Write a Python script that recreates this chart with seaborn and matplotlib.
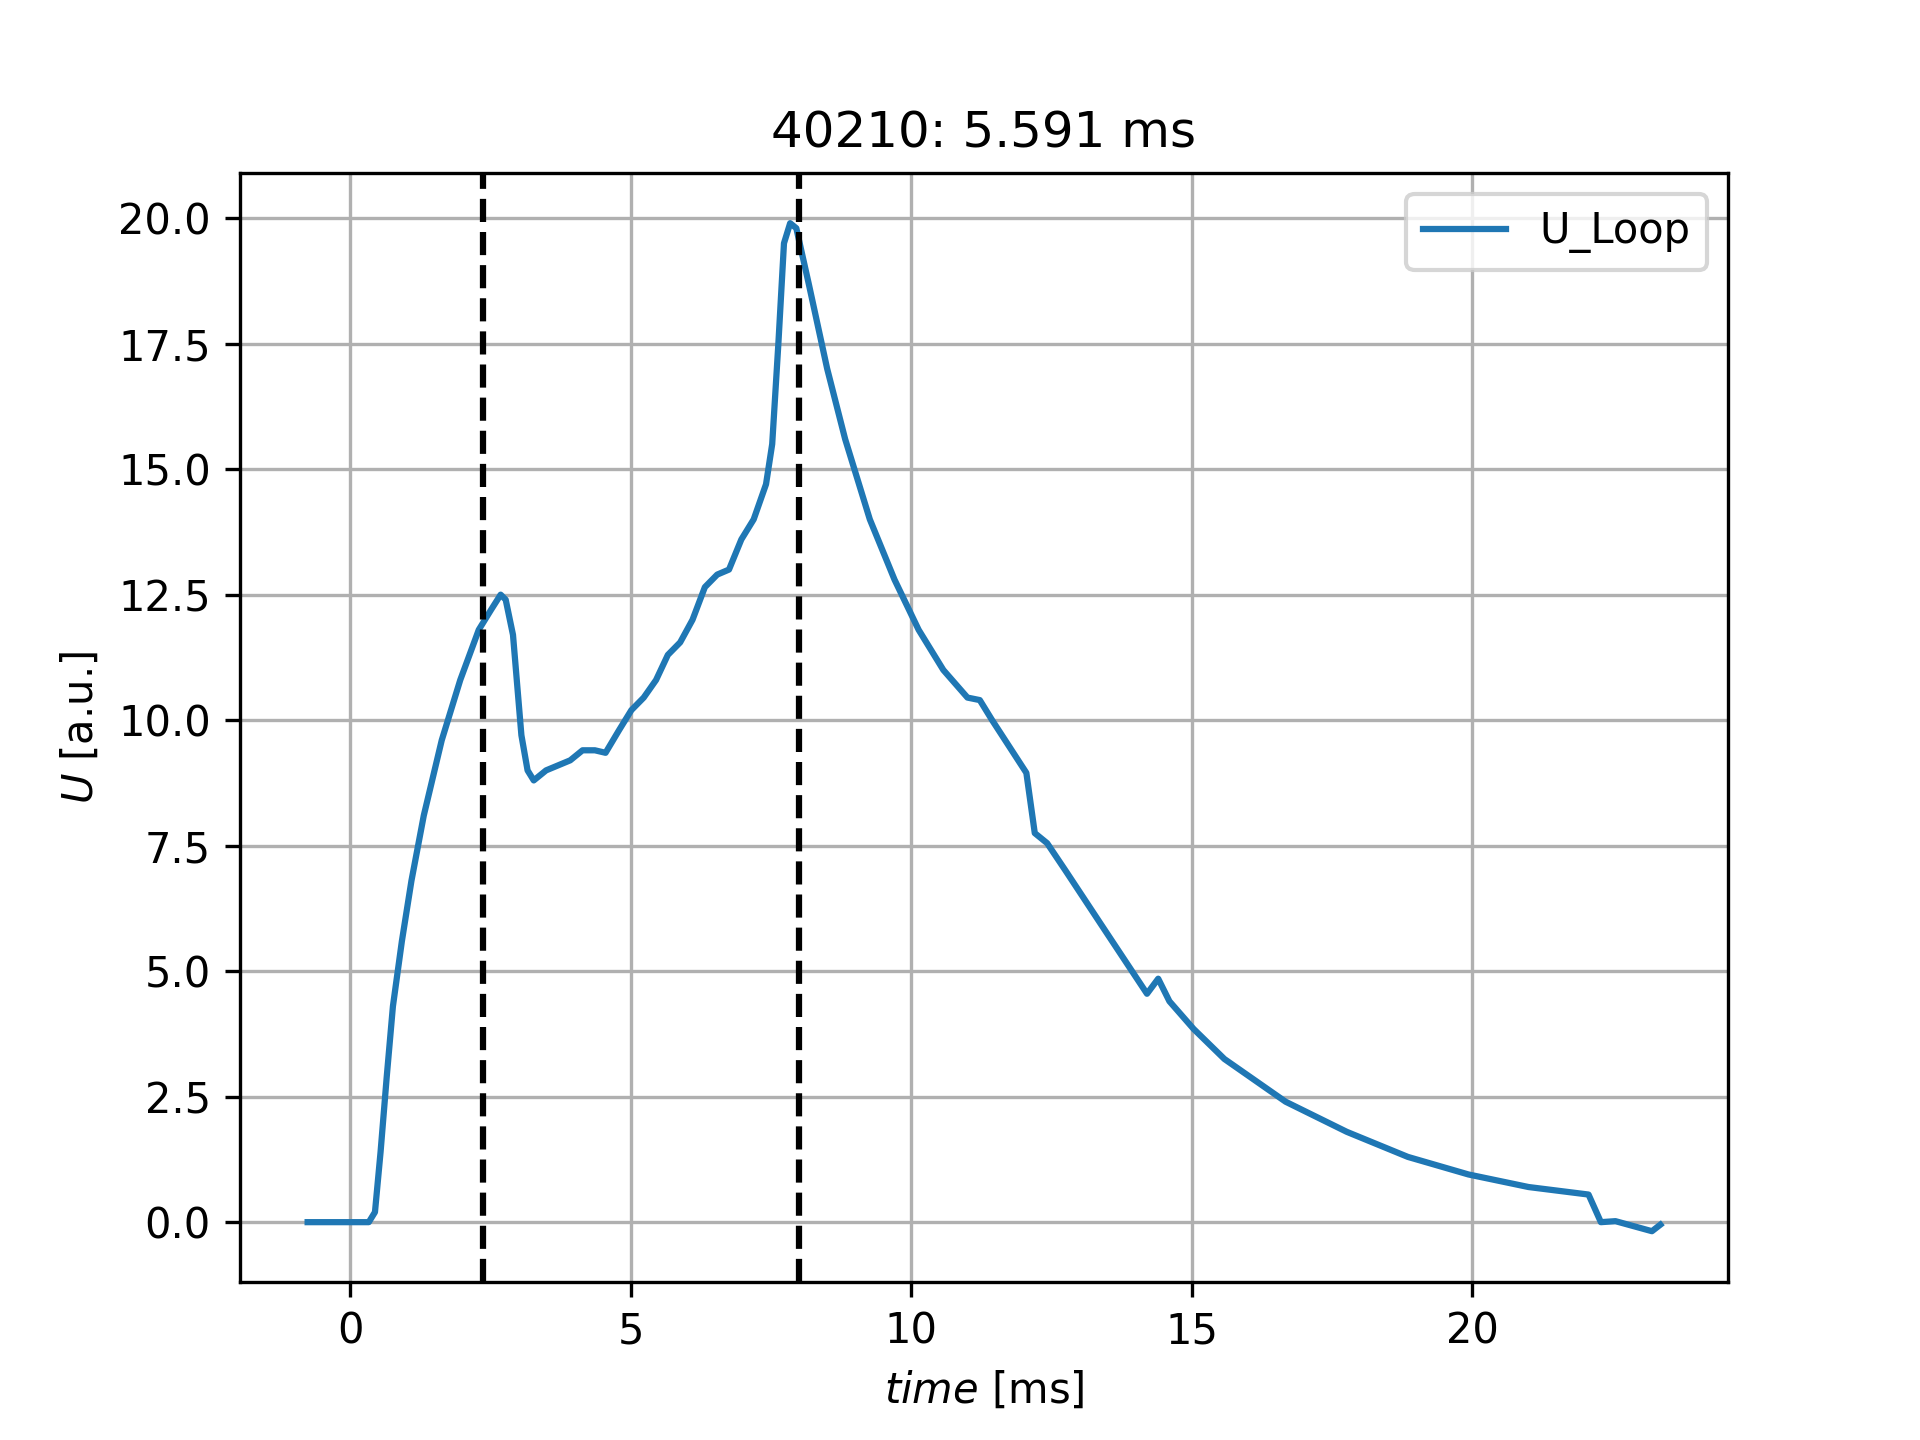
import numpy as np
import pandas as pd
import matplotlib
matplotlib.use('Agg')
import matplotlib.pyplot as plt
import seaborn as sns

# values
time_ms = [-0.76, -0.11, 0.33, 0.44, 0.54, 0.65, 0.76, 0.92, 1.09, 1.31, 1.63, 1.96,
           2.29, 2.51, 2.68, 2.77, 2.90, 3.05, 3.16, 3.27, 3.49, 3.92, 4.14, 4.36,
           4.55, 4.79, 5.01, 5.23, 5.45, 5.66, 5.88, 6.10, 6.32, 6.54, 6.75, 6.97,
           7.19, 7.41, 7.52, 7.63, 7.73, 7.84, 7.95, 8.17, 8.50, 8.82, 9.26, 9.70,
           10.13, 10.57, 11.00, 11.22, 11.44, 12.05, 12.20, 12.42, 12.75, 13.40,
           14.20, 14.40, 14.60, 15.03, 15.58, 16.67, 17.76, 18.85, 19.93, 21.00,
           22.07, 22.29, 22.55, 23.20, 23.35]
u_loop = [0.0, 0.0, 0.0, 0.2, 1.4, 2.9, 4.3, 5.6, 6.8, 8.1, 9.6, 10.8,
          11.8, 12.2, 12.5, 12.4, 11.7, 9.7, 9.0, 8.8, 9.0, 9.2, 9.4, 9.4,
          9.35, 9.8, 10.2, 10.45, 10.8, 11.3, 11.55, 12.0, 12.65, 12.9, 13.0, 13.6,
          14.0, 14.7, 15.5, 17.5, 19.5, 19.9, 19.8, 18.7, 17.0, 15.6, 14.0, 12.8,
          11.8, 11.0, 10.45, 10.4, 10.0, 8.95, 7.75, 7.55, 7.0, 5.9,
          4.55, 4.85, 4.4, 3.85, 3.25, 2.4, 1.8, 1.3, 0.95, 0.7,
          0.55, 0.0, 0.02, -0.18, -0.05]
markers_ms = [2.37, 8.0]
title = "40210: 5.591 ms"

df = pd.DataFrame({"time": time_ms, "U_Loop": u_loop})

fig, ax = plt.subplots(figsize=(6.4, 4.8), dpi=300)
sns.lineplot(data=df, x="time", y="U_Loop", ax=ax, color="#1f77b4", label="U_Loop", lw=1.5)
for t in markers_ms:
    ax.axvline(t, color="black", ls="--", lw=1.5)
ax.grid(True)
ax.set_yticks(np.arange(0, 20.1, 2.5))
ax.set_xlabel(r"$time$ [ms]")
ax.set_ylabel(r"$U$ [a.u.]")
ax.set_title(title)
ax.legend(loc="upper right")
fig.savefig("out.png", dpi=300)
